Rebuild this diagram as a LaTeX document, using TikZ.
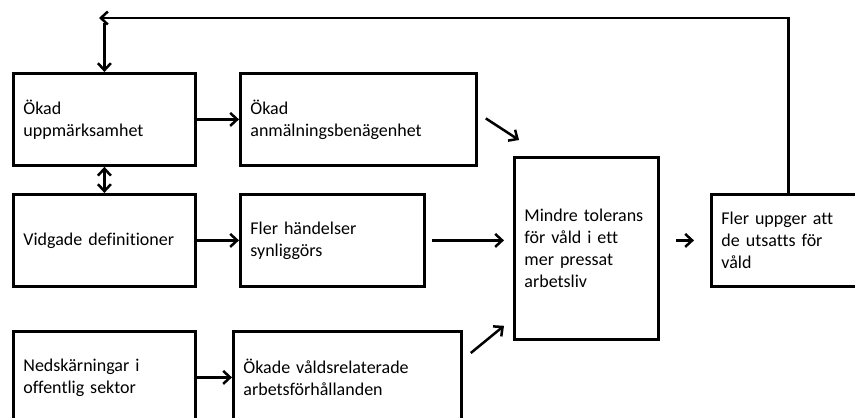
\documentclass[tikz,border=0pt]{standalone}
\usepackage{fontspec}
\setmainfont{Carlito}[Ligatures=NoCommon]
\usetikzlibrary{arrows.meta,calc}

\begin{document}
\begin{tikzpicture}[x=1pt,y=-1pt,
>={Straight Barb[length=7pt,width=13pt]},
every node/.style={font=\fontsize{18}{22}\selectfont},
box/.style={draw, line width=2.8pt, anchor=north west, align=left, inner xsep=10pt, inner ysep=0pt, minimum height=92pt},
arr/.style={line width=2.5pt, ->}
]
\useasboundingbox (0,0) rectangle (855,418);
\clip (0,0) rectangle (855,418);
\node[box, text width=162pt] (upp) at (12,72) {Ökad\\uppmärksamhet};
\node[box, text width=216pt] (anm) at (239,72) {Ökad\\anmälningsbenägenhet};
\node[box, text width=162pt] (vid) at (12,193) {Vidgade definitioner};
\node[box, text width=164pt] (syn) at (239,193) {Fler händelser\\synliggörs};
\node[box, text width=162pt] (ned) at (12,330) {Nedskärningar i\\offentlig sektor};
\node[box, text width=208pt] (vald) at (232,330) {Ökade våldsrelaterade\\arbetsförhållanden};
\node[box, text width=124pt, minimum height=182pt] (tol) at (513,156) {Mindre tolerans\\för våld i ett\\mer pressat\\arbetsliv};
\node[box, text width=134pt] (upg) at (710,193) {Fler uppger att\\de utsatts för\\våld};
\coordinate (fb) at (99,18); % <- end of feedback line
% left column
\draw[arr] ($(upp.north)+(0,-49)$) -- (upp.north);
\draw[arr, <->] (upp.south) -- (vid.north);
\draw[arr] (upp.east) -- (anm.west);
\draw[arr] (vid.east) -- (syn.west);
\draw[arr] (ned.east) -- (vald.west);
% into the middle box
\draw[arr] ($(anm.east)+(8,-1)$) -- ($(tol.north west)+(6,-16)$);
\draw[arr, shorten <=6pt, shorten >=9pt] (syn.east) -- (syn.east -| tol.west);
\draw[arr] ($(vald.north east)+(8,23)$) -- ($(tol.south west)+(-9,-15)$);
% out of it
\draw[arr, shorten <=16pt, shorten >=16pt] (upg.west -| tol.east) -- (upg.west);
\draw[arr] (upg.north) |- (fb); %<- back to the top
\end{tikzpicture}
\end{document}
